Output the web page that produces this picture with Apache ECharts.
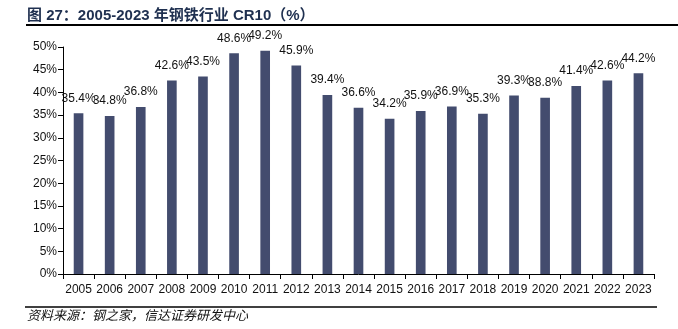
<!DOCTYPE html>
<html>
<head>
<meta charset="utf-8">
<script src="https://cdn.jsdelivr.net/npm/echarts@6/dist/echarts.min.js"></script>
<style>
  html, body { margin: 0; padding: 0; background: #fff; }
  #chart { width: 678px; height: 329px; }
</style>
</head>
<body>
<div id="chart"></div>
<script>
// Steel industry CR10 concentration, 2005-2023
var years = ['2005','2006','2007','2008','2009','2010','2011','2012','2013','2014',
             '2015','2016','2017','2018','2019','2020','2021','2022','2023'];
var cr10 = [35.4, 34.8, 36.8, 42.6, 43.5, 48.6, 49.2, 45.9, 39.4, 36.6,
            34.2, 35.9, 36.9, 35.3, 39.3, 38.8, 41.4, 42.6, 44.2];
var yTicks = [0, 5, 10, 15, 20, 25, 30, 35, 40, 45, 50];

var titleText = '图 27：2005-2023 年钢铁行业 CR10（%）';
var sourceText = '资料来源：钢之家，信达证券研发中心';

var font = 'Liberation Sans, Arial, sans-serif';
var cjkFont = 'Liberation Sans, Arial, "Noto Sans CJK SC", sans-serif';

var chart = echarts.init(document.getElementById('chart'));
chart.setOption({
  animation: false,
  backgroundColor: '#fff',
  grid: { left: 63, right: 24, top: 47, bottom: 55 },
  xAxis: {
    type: 'category',
    data: years,
    boundaryGap: true,
    axisLine: { lineStyle: { color: '#000', width: 1 } },
    axisTick: { show: true, interval: 0, alignWithLabel: false, length: 5, lineStyle: { color: '#000' } },
    axisLabel: { color: '#111', fontSize: 12, fontFamily: font, margin: 10, interval: 0 }
  },
  yAxis: {
    type: 'value',
    min: yTicks[0],
    max: yTicks[yTicks.length - 1],
    interval: 5,
    axisLine: { show: true, lineStyle: { color: '#000', width: 1 } },
    axisTick: { show: true, length: 5, lineStyle: { color: '#000' } },
    splitLine: { show: false },
    axisLabel: { color: '#111', fontSize: 12, fontFamily: font, margin: 6,
                 formatter: function (v) { return v + '%'; } }
  },
  series: [{
    type: 'bar',
    data: cr10,
    barWidth: '31%',
    itemStyle: { color: '#434c6e' },
    label: {
      show: true,
      position: 'top',
      distance: 9,
      color: '#111',
      fontSize: 12,
      fontFamily: font,
      formatter: function (p) { return p.value.toFixed(1) + '%'; }
    }
  }],
  graphic: [
    {
      type: 'text', left: 27, top: 8,
      style: { text: titleText, fill: '#1f3050', font: 'bold 15px ' + cjkFont }
    },
    {
      type: 'line', shape: { x1: 26, y1: 25, x2: 678, y2: 25 },
      style: { stroke: '#000', lineWidth: 2 }
    },
    {
      type: 'line', shape: { x1: 25, y1: 307, x2: 657, y2: 307 },
      style: { stroke: '#000', lineWidth: 1.5 }
    },
    {
      type: 'text', left: 27, top: 310,
      style: { text: sourceText, fill: '#111', font: 'italic 13px ' + cjkFont }
    }
  ]
});
</script>
</body>
</html>
